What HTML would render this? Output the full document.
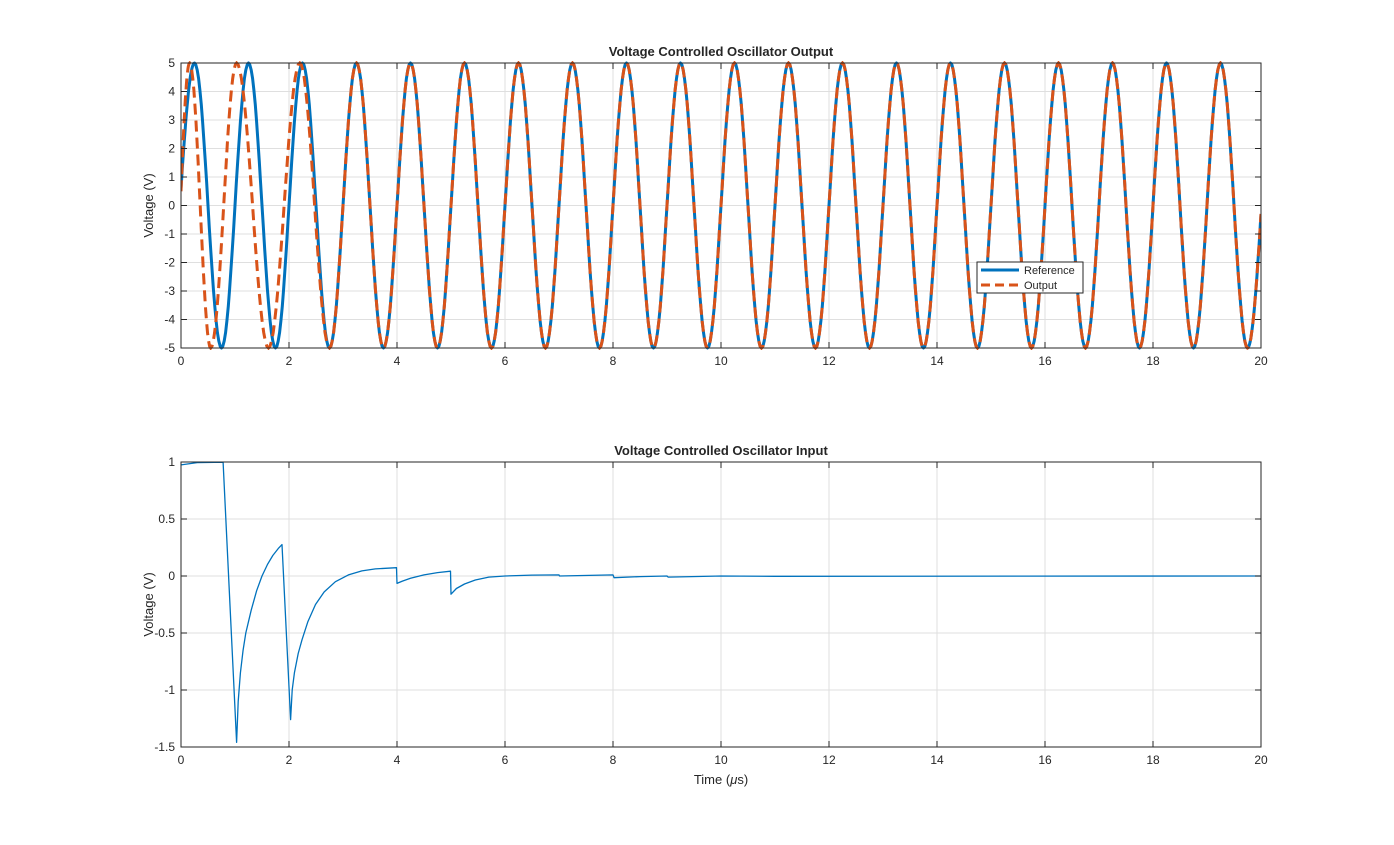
<!DOCTYPE html>
<html><head><meta charset="utf-8"><style>
body{margin:0;background:#fff;}
svg text{font-family:"Liberation Sans",Arial,sans-serif;fill:#262626;}
</style></head><body>
<svg id="s" width="1394" height="840" viewBox="0 0 1394 840"></svg>
<script>
// ---------- data ----------
const xTicks=[0,2,4,6,8,10,12,14,16,18,20];
const topYTicks=[-5,-4,-3,-2,-1,0,1,2,3,4,5];
const botYTicks=[-1.5,-1,-0.5,0,0.5,1];
const botYLabels=["-1.5","-1","-0.5","0","0.5","1"];
// reference waveform extrema [time us, volts]
const refStart=[0,0.6];
const refExtT=[0.25,0.75,1.25,1.75,2.25,2.75,3.25,3.75,4.25,4.75,5.25,5.75,6.25,6.75,7.25,7.75,8.25,8.75,9.25,9.75,10.25,10.75,11.25,11.75,12.25,12.75,13.25,13.75,14.25,14.75,15.25,15.75,16.25,16.75,17.25,17.75,18.25,18.75,19.25,19.75];
const refEndT=[20,-0.3];
// output waveform extrema
const outStart=[0,0.5];
const outExtT=[0.16,0.55,1.03,1.62,2.2,2.75,3.25,3.75,4.25,4.75,5.25,5.75,6.25,6.75,7.25,7.75,8.25,8.75,9.25,9.75,10.25,10.75,11.25,11.75,12.25,12.75,13.25,13.75,14.25,14.75,15.25,15.75,16.25,16.75,17.25,17.75,18.25,18.75,19.25,19.75];
const outEndT=[20,-0.3];
// input signal samples
const inT=[0,0.3,0.78,1.03,1.06,1.1,1.15,1.2,1.3,1.4,1.5,1.6,1.7,1.8,1.87,2.03,2.06,2.1,2.17,2.24,2.35,2.49,2.65,2.86,3.1,3.35,3.6,3.99,4.0,4.1,4.25,4.5,4.75,4.99,5.0,5.1,5.25,5.45,5.7,6.0,6.5,7.0,7.01,8.0,8.02,8.5,9.0,9.02,10.0,11.0,20];
const inV=[0.975,0.995,0.998,-1.46,-1.1,-0.85,-0.65,-0.5,-0.3,-0.13,0.0,0.1,0.18,0.24,0.275,-1.26,-1.0,-0.85,-0.68,-0.56,-0.4,-0.25,-0.14,-0.05,0.01,0.045,0.062,0.073,-0.065,-0.045,-0.02,0.01,0.03,0.042,-0.16,-0.11,-0.07,-0.035,-0.01,0.0,0.008,0.01,0.0,0.01,-0.015,-0.005,0.0,-0.01,0.0,-0.003,0.0];
// ---------- drawing ----------
const NS="http://www.w3.org/2000/svg", svg=document.getElementById('s');
function mk(tag,at,parent){const e=document.createElementNS(NS,tag);for(const k in at)e.setAttribute(k,at[k]);(parent||svg).appendChild(e);return e;}
const L=181,R=1261;
const xs=t=>L+(t-0)/(20-0)*(R-L);
function axes(top,bot,ymin,ymax,yt,ylab,name,title,ytitle){
  const ys=v=>bot-(v-ymin)/(ymax-ymin)*(bot-top);
  const g=mk('g',{});
  
  
  mk('rect',{x:L,y:top,width:R-L,height:bot-top,fill:'#fff'},g);
  xTicks.forEach(t=>{const l=mk('line',{x1:xs(t),x2:xs(t),y1:top,y2:bot,stroke:'#dfdfdf','stroke-width':1},g);
    });
  yt.forEach(v=>{const l=mk('line',{x1:L,x2:R,y1:ys(v),y2:ys(v),stroke:'#dfdfdf','stroke-width':1},g);
    });
  const series=mk('g',{'clip-path':'url(#c'+name+')'},g);
  const cp=mk('clipPath',{id:'c'+name},g);mk('rect',{x:L,y:top-2,width:R-L,height:bot-top+4},cp);
  mk('rect',{x:L,y:top,width:R-L,height:bot-top,fill:'none',stroke:'#262626','stroke-width':1},g);
  xTicks.forEach(t=>{mk('line',{x1:xs(t),x2:xs(t),y1:bot,y2:bot-6,stroke:'#262626'},g);mk('line',{x1:xs(t),x2:xs(t),y1:top,y2:top+6,stroke:'#262626'},g);
    const tx=mk('text',{x:xs(t),y:bot+17,'font-size':12,'text-anchor':'middle'},g);tx.textContent=t;
    });
  yt.forEach((v,i)=>{mk('line',{x1:L,x2:L+6,y1:ys(v),y2:ys(v),stroke:'#262626'},g);mk('line',{x1:R,x2:R-6,y1:ys(v),y2:ys(v),stroke:'#262626'},g);
    const tx=mk('text',{x:L-6,y:ys(v)+4,'font-size':12,'text-anchor':'end'},g);tx.textContent=ylab?ylab[i]:v;
    });
  const tt=mk('text',{x:(L+R)/2,y:top-7,'font-size':13,'font-weight':'bold','text-anchor':'middle'},g);tt.textContent=title;
  
  const yl=mk('text',{x:0,y:0,'font-size':13,'text-anchor':'middle',transform:`translate(${L-28},${(top+bot)/2}) rotate(-90)`},g);yl.textContent=ytitle;
  
  return {ys,series};
}
function wave(start,ext,end,amp){
  const pts=[];
  const nodes=[[start[0],start[1]]];
  ext.forEach((t,i)=>{nodes.push([t,(i%2===0?1:-1)*amp]);});
  nodes.push([end[0],end[1]]);
  for(let i=0;i<nodes.length-1;i++){const[a,va]=nodes[i],[b,vb]=nodes[i+1];
    for(let k=0;k<=20;k++){const f=k/20,w=(1-Math.cos(Math.PI*f))/2;
      let v;
      if(i===0){const ph=Math.asin(Math.max(-1,Math.min(1,va/amp)));const p=ph+(Math.PI/2-ph)*f;v=amp*Math.sin(p);}
      else if(i===nodes.length-2){const ph=Math.asin(Math.max(-1,Math.min(1,vb/amp)));
        const s=va>0?1:-1;v=s*amp*Math.cos(f*(Math.PI/2-s*ph));}
      else v=va+(vb-va)*w;
      pts.push([a+(b-a)*f,v]);}}
  return pts;
}
const A=axes(63,348,-5,5,topYTicks,null,'output-axes','Voltage Controlled Oscillator Output','Voltage (V)');
const refPts=wave(refStart,refExtT,refEndT,5), outPts=wave(outStart,outExtT,outEndT,5);
const toD=(p,ys)=>p.map((q,i)=>(i?'L':'M')+xs(q[0]).toFixed(1)+','+ys(q[1]).toFixed(1)).join('');
const r=mk('path',{d:toD(refPts,A.ys),fill:'none',stroke:'#0072BD','stroke-width':3,'stroke-linejoin':'round'},A.series);

const o=mk('path',{d:toD(outPts,A.ys),fill:'none',stroke:'#D95319','stroke-width':3,'stroke-dasharray':'11,6'},A.series);

// legend
const lg=mk('g',{});

mk('rect',{x:977,y:262,width:106,height:31,fill:'#fff',stroke:'#262626','stroke-width':1},lg);
mk('line',{x1:981,x2:1019,y1:270,y2:270,stroke:'#0072BD','stroke-width':3},lg);
mk('line',{x1:981,x2:1019,y1:285,y2:285,stroke:'#D95319','stroke-width':3,'stroke-dasharray':'9,5'},lg);
const t1=mk('text',{x:1024,y:274,'font-size':11},lg);t1.textContent='Reference';

const t2=mk('text',{x:1024,y:289,'font-size':11},lg);t2.textContent='Output';

// bottom
const B=axes(462,747,-1.5,1,botYTicks,botYLabels,'input-axes','Voltage Controlled Oscillator Input','Voltage (V)');
const inPts=inT.map((t,i)=>[t,inV[i]]);
const ip=mk('path',{d:toD(inPts,B.ys),fill:'none',stroke:'#0072BD','stroke-width':1.3,'stroke-linejoin':'round'},B.series);

const xt=mk('text',{x:(L+R)/2,y:784,'font-size':13,'text-anchor':'middle'});
xt.innerHTML='Time (<tspan font-style="italic">μ</tspan>s)';


</script>
</body></html>
